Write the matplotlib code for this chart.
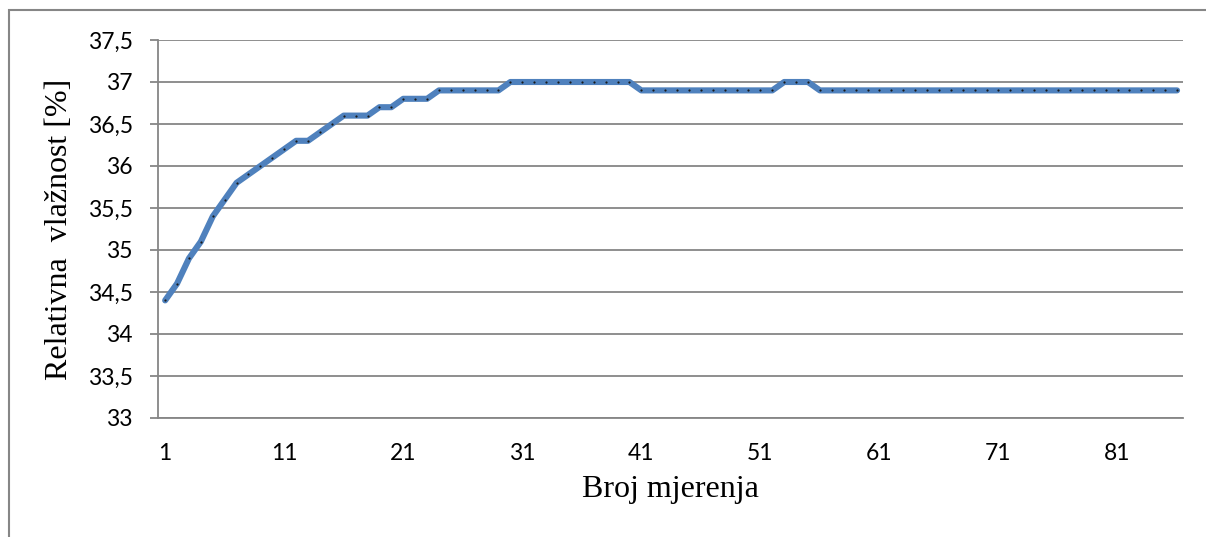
import matplotlib.pyplot as plt
import numpy as np
from matplotlib.patches import Rectangle

# measurements (relative humidity, %)
humidity = ([34.4, 34.6, 34.9, 35.1, 35.4, 35.6, 35.8, 35.9, 36.0, 36.1,
             36.2, 36.3, 36.3, 36.4, 36.5, 36.6, 36.6, 36.6, 36.7, 36.7,
             36.8, 36.8, 36.8]
            + [36.9] * 6
            + [37.0] * 11
            + [36.9] * 12
            + [37.0] * 3
            + [36.9] * 31)
measurement = list(range(1, len(humidity) + 1))

x_ticks = list(range(1, 82, 10))
y_ticks = [33, 33.5, 34, 34.5, 35, 35.5, 36, 36.5, 37, 37.5]

GRAY = '#868686'
BLUE = '#4F81BD'

fig = plt.figure(figsize=(12.06, 5.37), dpi=100)
ax = fig.add_axes([158 / 1206, 1 - 418 / 537, (1183 - 158) / 1206, (418 - 40) / 537])

ax.plot(measurement, humidity, color=BLUE, lw=4.4,
        solid_capstyle='round', solid_joinstyle='round', zorder=3)
ax.plot(measurement, humidity, ls='none', marker='o', ms=1.6,
        mfc='#1a1a1a', mec='none', zorder=4)

ax.set_xlim(0.4, len(humidity) + 0.5)
ax.set_ylim(33, 37.5)
ax.set_yticks(y_ticks)
ax.set_yticklabels([('%g' % v).replace('.', ',') for v in y_ticks])
ax.set_xticks(x_ticks)
ax.set_xticklabels([str(v) for v in x_ticks])

ax.grid(axis='y', color=GRAY, lw=1.3)
ax.set_axisbelow(True)
for s in ['top', 'right']:
    ax.spines[s].set_visible(False)
for s in ['left', 'bottom']:
    ax.spines[s].set_color(GRAY)
    ax.spines[s].set_linewidth(1.3)

ax.tick_params(axis='y', length=6, width=1.3, color=GRAY, pad=12)
ax.tick_params(axis='x', length=0, pad=18)
for lab in ax.get_xticklabels() + ax.get_yticklabels():
    lab.set_fontfamily('Lato')
    lab.set_fontsize(16.5)

ax.set_xlabel('Broj mjerenja', family='Liberation Serif', fontsize=23, labelpad=8)
ax.set_ylabel('Relativna  vlažnost [%]', family='Liberation Serif', fontsize=23, labelpad=10)

# outer chart frame (runs off the right and bottom edge)
fig.patches.append(Rectangle((9 / 1206, -0.05), 1.1, 1 - 10 / 537 + 0.05,
                             transform=fig.transFigure, fill=False,
                             edgecolor=GRAY, lw=1.5))

fig.savefig('out.png', dpi=100)
